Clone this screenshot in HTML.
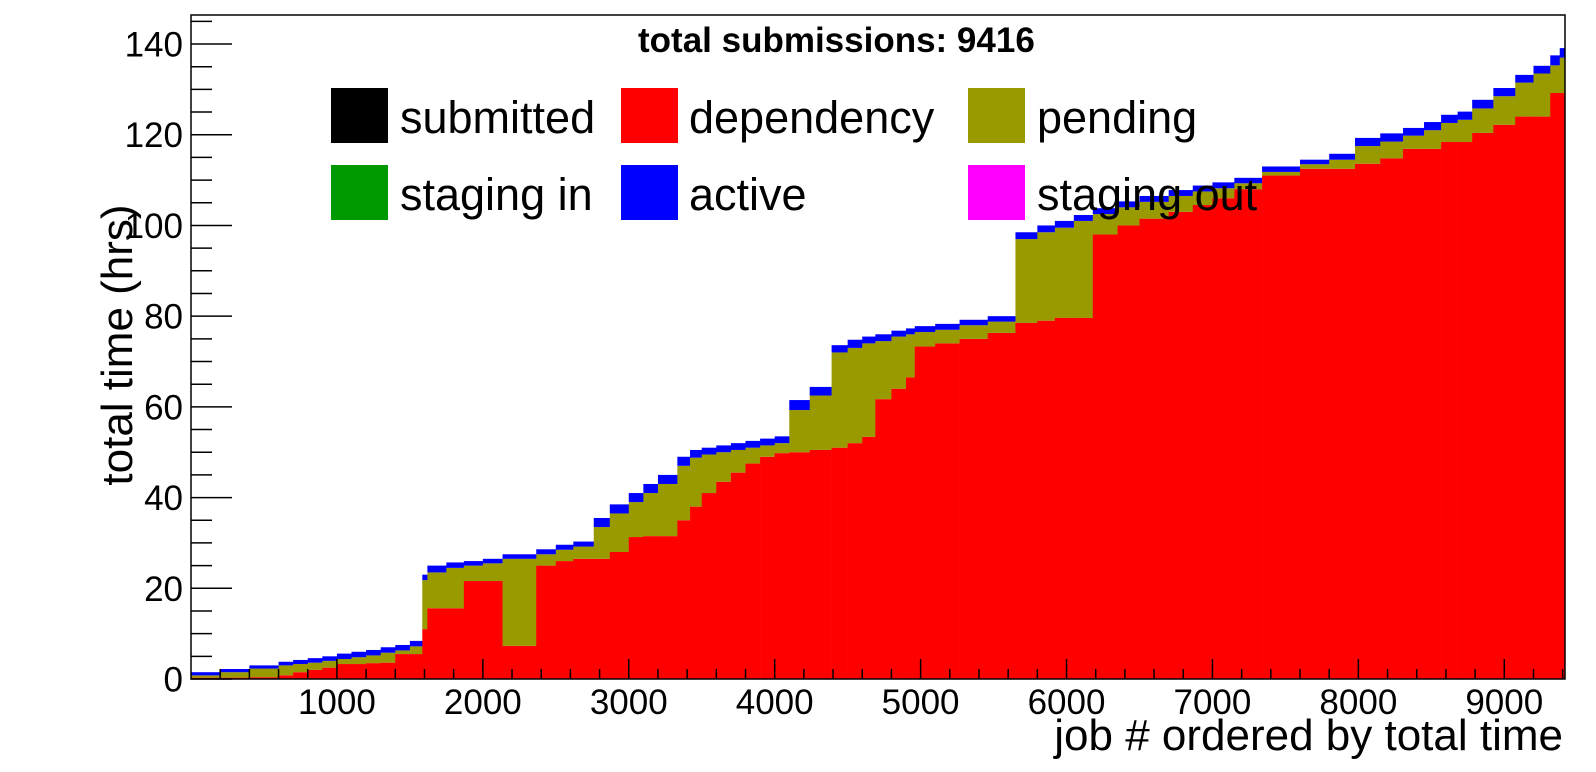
<!DOCTYPE html>
<html>
<head>
<meta charset="utf-8">
<style>
  html,body{margin:0;padding:0;background:#fff;}
  svg{display:block;}
  text{font-family:"Liberation Sans",Arial,sans-serif;fill:#000;}
</style>
</head>
<body>
<svg id="chart" width="1596" height="772" viewBox="0 0 1596 772" xmlns="http://www.w3.org/2000/svg">
  <rect x="0" y="0" width="1596" height="772" fill="#fff"/>
  <g id="bars"></g>
  <g id="axes"></g>
  <text x="638" y="52" font-size="35" font-weight="bold">total submissions: 9416</text>
  <g>
    <g>
      <rect x="331" y="88" width="57" height="55" fill="#000000"/>
      <text x="400" y="133" font-size="45">submitted</text>
    </g>
    <g>
      <rect x="621" y="88" width="57" height="55" fill="#ff0000"/>
      <text x="689" y="133" font-size="45">dependency</text>
    </g>
    <g>
      <rect x="968" y="88" width="57" height="55" fill="#999900"/>
      <text x="1037" y="133" font-size="45">pending</text>
    </g>
    <g>
      <rect x="331" y="165" width="57" height="55" fill="#009900"/>
      <text x="400" y="210" font-size="45">staging in</text>
    </g>
    <g>
      <rect x="621" y="165" width="57" height="55" fill="#0000ff"/>
      <text x="689" y="210" font-size="45">active</text>
    </g>
    <g>
      <rect x="968" y="165" width="57" height="55" fill="#ff00ff"/>
      <text x="1037" y="210" font-size="45">staging out</text>
    </g>
  </g>
  <text x="1563" y="750" font-size="44" text-anchor="end">job # ordered by total time</text>
  <text transform="translate(132,345) rotate(-90)" font-size="44" text-anchor="middle">total time (hrs)</text>
</svg>
<script>
// segment start job numbers (each segment runs to the next start; last runs to total)
const segStart = [0,200,400,600,700,800,900,1000,1100,1200,1300,1400,1500,1585,1620,1750,1870,2000,2135,2366,2500,2620,2760,2870,3000,3100,3200,3333,3420,3500,3600,3700,3800,3900,4000,4100,4240,4390,4500,4600,4690,4800,4900,4960,5100,5267,5460,5650,5800,5920,6050,6180,6350,6500,6700,6865,7000,7150,7340,7600,7800,7977,8150,8306,8450,8567,8680,8780,8925,9075,9200,9315,9380];
// dependency hours (red)
const dependency = [0.3,0.3,0.4,0.8,1.5,2.0,2.5,3.3,3.3,3.5,3.6,5.5,5.5,11,15.6,15.6,21.6,21.6,7.3,25,26,26.5,26.5,28,31.3,31.5,31.5,35,38,41,43.5,45.5,47.5,49,49.8,50,50.5,51,52,53.4,61.7,64,66.5,73.3,74,75,76.3,78.5,79,79.6,79.6,98,100,101.5,103,104.5,106,108,111,112.5,112.5,113.6,114.8,116.9,116.9,118.4,118.4,120.4,122.2,124,124,129.2,129.2];
// pending hours (olive)
const pending = [0.5,1.2,1.9,2.2,1.8,1.6,1.5,1.1,1.5,1.7,2.2,0.8,1.7,10.8,7.9,8.9,3.4,3.9,19.2,2.5,2.5,2.7,7,8.5,7.7,9.5,11.5,12,10.8,8.5,6.5,5,3.5,2.5,2.2,9.3,12,21,21,20.6,12.8,11.5,9.5,3.2,3,3,2.5,18.5,19.5,19.9,21.4,4.5,4,3.7,3.5,3,2.2,1.3,0.8,1,2,3.9,3.7,2.9,4.1,4.2,4.9,5.4,6.3,7.5,9.5,6.1,7.8];
// active hours (blue)
const active = [0.7,0.7,0.7,0.8,0.9,1.0,1.0,1.2,1.2,1.2,1.2,1.2,1.2,1.2,1.5,1.2,1.0,1.0,1.0,1.1,1.1,1.1,2.0,2.0,2.0,2.0,2.0,2.0,1.7,1.5,1.5,1.5,1.5,1.5,1.5,2.2,1.9,1.6,1.8,1.5,1.5,1.3,1.3,1.3,1.3,1.2,1.2,1.5,1.5,1.5,1.3,1.3,1.3,1.3,1.3,1.3,1.3,1.2,1.2,1.0,1.3,1.8,1.8,1.7,1.8,1.8,1.8,1.9,1.8,1.7,1.7,2.2,2.1];
const totalJobs = 9416;
const yTickValues = [0,20,40,60,80,100,120,140];
const xTickValues = [1000,2000,3000,4000,5000,6000,7000,8000,9000];

const NS = "http://www.w3.org/2000/svg";
const PL = 191, PR = 1565, PT = 15, PB = 679;
const XMAX = totalJobs, YMAX = 146.4;
function xs(v){ return PL + (v/XMAX)*(PR-PL); }
function ys(v){ return PB - (v/YMAX)*(PB-PT); }

const bars = document.getElementById('bars');
function mk(tag, attrs, parent){
  const e = document.createElementNS(NS, tag);
  for (const k in attrs) e.setAttribute(k, attrs[k]);
  parent.appendChild(e);
  return e;
}
for (let i=0;i<segStart.length;i++){
  const x0 = xs(segStart[i]);
  const x1 = xs(i+1<segStart.length ? segStart[i+1] : totalJobs);
  const d = dependency[i], p = pending[i], a = active[i];
  const stack = [[0,d,'#ff0000','dependency'],[d,d+p,'#999900','pending'],[d+p,d+p+a,'#0000ff','active']];
  for (const s of stack){
    const r = mk('rect',{x:x0, y:ys(s[1]), width:Math.max(0.5,x1-x0+0.3), height:Math.max(0,ys(s[0])-ys(s[1])), fill:s[2]}, bars);
    
    
  }
}

const axes = document.getElementById('axes');
const frame = mk('rect',{x:PL, y:PT, width:PR-PL, height:PB-PT, fill:'none', stroke:'#000', 'stroke-width':1.5}, axes);


// y ticks
for (let v=0; v<=145; v+=5){
  const major = v%20===0;
  const t = mk('line',{x1:PL, x2:PL+(major?41:21), y1:ys(v), y2:ys(v), stroke:'#000', 'stroke-width':1.5}, axes);
  
  
}
for (const v of yTickValues){
  const t = mk('text',{x:183, y:ys(v)+12.5, 'font-size':35, 'text-anchor':'end'}, axes);
  t.textContent = String(v);
  
  
}
// x ticks
for (let v=200; v<=9400; v+=200){
  const major = v%1000===0;
  const t = mk('line',{x1:xs(v), x2:xs(v), y1:PB, y2:PB-(major?20:10), stroke:'#000', 'stroke-width':1.5}, axes);
  
  
}
for (const v of xTickValues){
  const t = mk('text',{x:xs(v), y:714, 'font-size':35, 'text-anchor':'middle'}, axes);
  t.textContent = String(v);
  
  
}
</script>
</body>
</html>
